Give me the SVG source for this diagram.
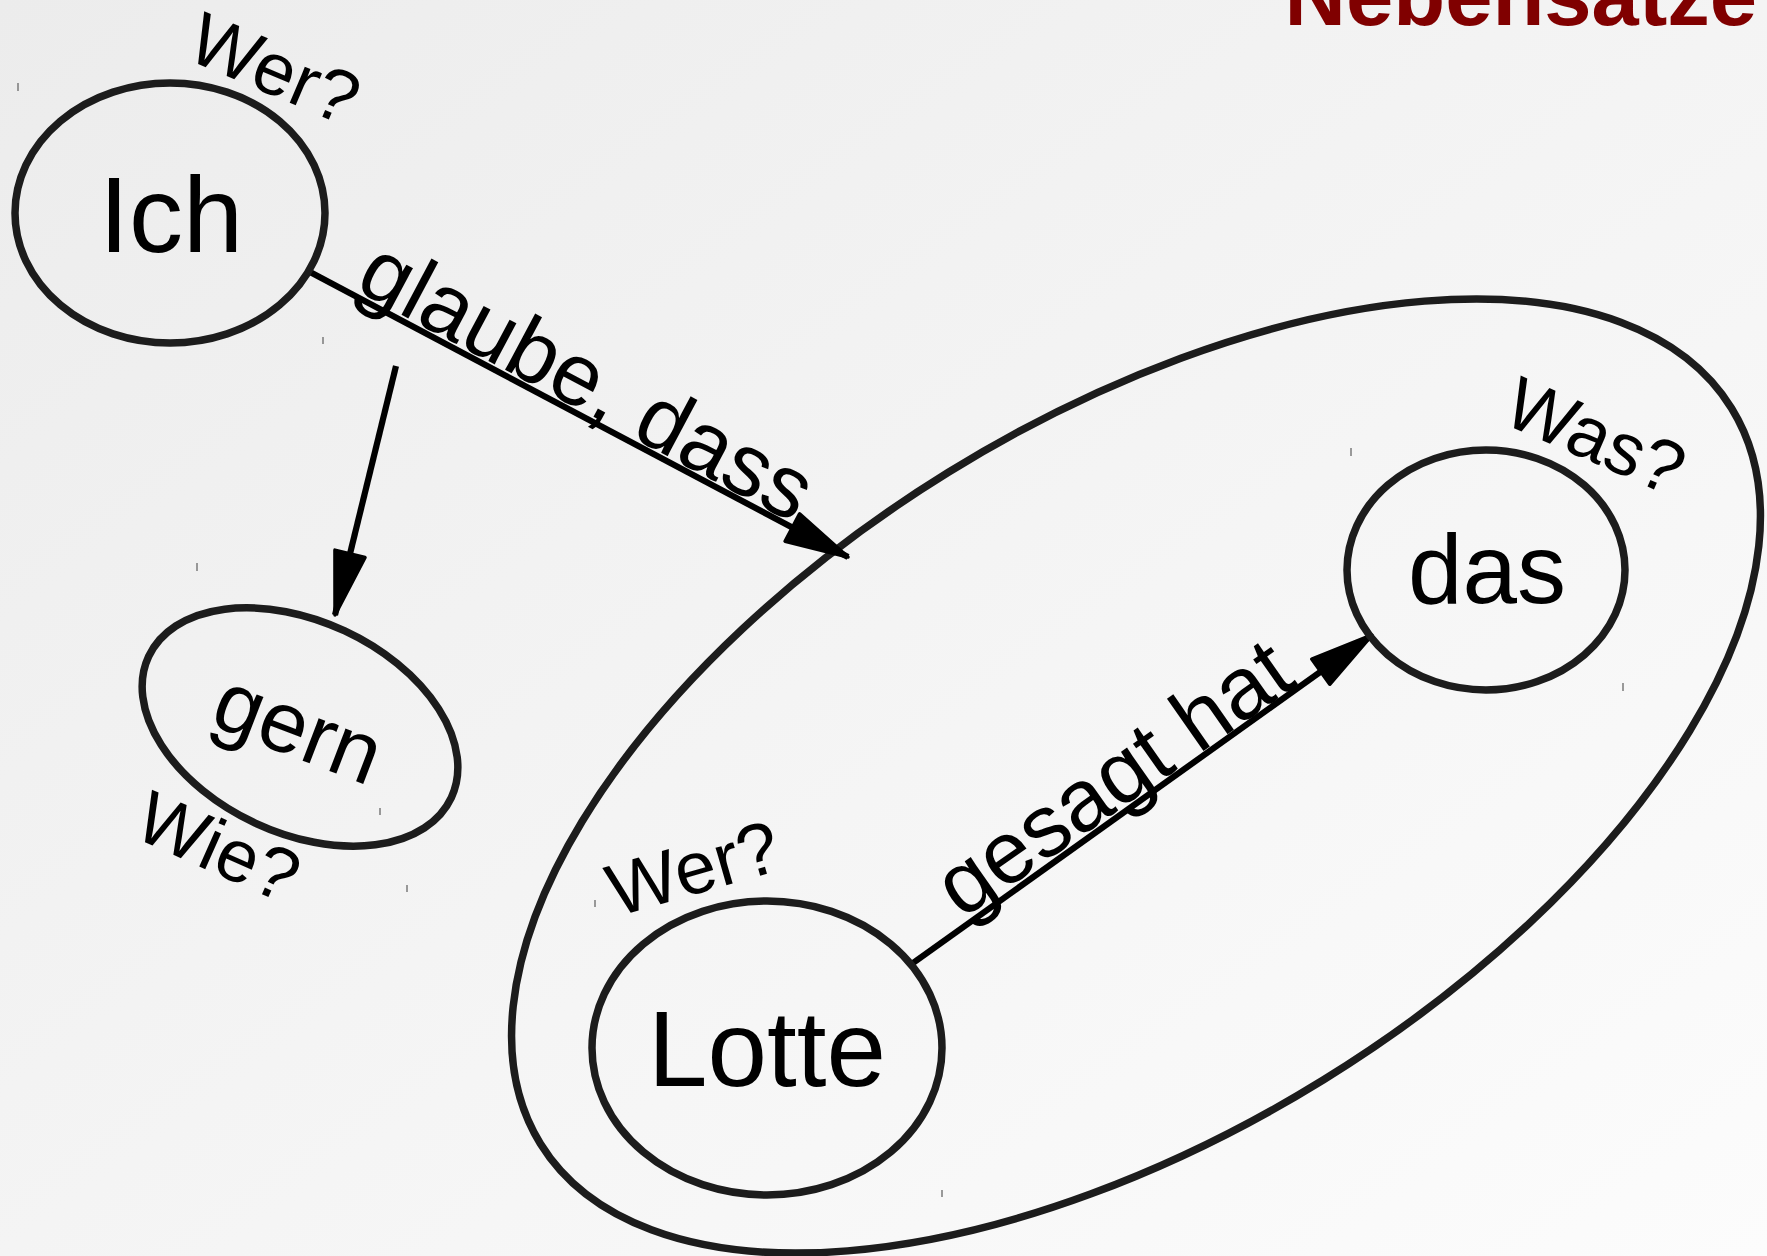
<svg xmlns="http://www.w3.org/2000/svg" width="1767" height="1256" viewBox="0 0 1767 1256">
<defs>
<linearGradient id="bg" x1="0" y1="0" x2="1" y2="1">
<stop offset="0" stop-color="#ececec"/>
<stop offset="1" stop-color="#fcfcfc"/>
</linearGradient>
<marker id="arr" markerUnits="userSpaceOnUse" orient="auto" refX="0" refY="0" markerWidth="80" markerHeight="40" overflow="visible">
<path d="M0,0 L-63,-15.5 L-63,15.5 Z" fill="#000" stroke="#000" stroke-width="3.5" stroke-linejoin="round"/>
</marker>
<style>
.node{fill:none;stroke:#1c1c1c;stroke-width:7.5}
.conn{fill:none;stroke:#000;stroke-width:6.2;marker-end:url(#arr)}
.big{font-family:"Liberation Sans",Arial,sans-serif;fill:#000;text-anchor:middle}
.lbl{font-family:"Liberation Sans",Arial,sans-serif;fill:#000;font-size:74px}
.edge{font-family:"Liberation Sans",Arial,sans-serif;fill:#000;font-size:88px}
.tick{stroke:#7a7a7a;stroke-width:1.5}
</style>
</defs>
<rect width="1767" height="1256" fill="url(#bg)"/>
<text x="1757" y="25" font-family="'Liberation Sans',Arial,sans-serif" font-weight="bold" font-size="85" fill="#800000" text-anchor="end">Nebensätze</text>

<g id="group-ellipse">
<ellipse class="node" cx="1136" cy="776" rx="700" ry="357" transform="rotate(-31.7 1136 776)"/>
</g>

<g id="connectors">
<path class="conn" d="M310,272 L848,557"/>
<path class="conn" d="M396,366 L335,615"/>
<path class="conn" d="M913,963 L1372,635"/>
<text class="edge" transform="translate(353,289) rotate(28)">glaube, dass</text>
<text class="edge" transform="translate(962,920) rotate(-35)">gesagt hat</text>
</g>

<g id="node-ich">
<ellipse class="node" cx="170" cy="213" rx="155" ry="130"/>
<text class="big" x="171" y="252" font-size="108">Ich</text>
<text class="lbl" font-size="78" transform="translate(184,58) rotate(23)">Wer?</text>
</g>

<g id="node-gern">
<ellipse class="node" cx="300" cy="727" rx="167" ry="106" transform="rotate(25 300 727)"/>
<text class="big" font-size="86" transform="translate(288,755) rotate(21)">gern</text>
<text class="lbl" transform="translate(131,836) rotate(24)">Wie?</text>
</g>

<g id="node-das">
<ellipse class="node" cx="1486" cy="570" rx="139" ry="120"/>
<text class="big" x="1487" y="603" font-size="98">das</text>
<text class="lbl" transform="translate(1500,422) rotate(23.6)">Was?</text>
</g>

<g id="node-lotte">
<ellipse class="node" cx="767" cy="1048" rx="175" ry="147"/>
<text class="big" x="767" y="1086" font-size="107">Lotte</text>
<text class="lbl" transform="translate(616,917) rotate(-16)">Wer?</text>
</g>

<g id="ticks">
<line class="tick" x1="18" y1="83" x2="18" y2="91"/>
<line class="tick" x1="323" y1="337" x2="323" y2="344"/>
<line class="tick" x1="197" y1="563" x2="197" y2="571"/>
<line class="tick" x1="380" y1="808" x2="380" y2="815"/>
<line class="tick" x1="407" y1="885" x2="407" y2="892"/>
<line class="tick" x1="1351" y1="448" x2="1351" y2="456"/>
<line class="tick" x1="1623" y1="683" x2="1623" y2="691"/>
<line class="tick" x1="595" y1="900" x2="595" y2="907"/>
<line class="tick" x1="942" y1="1190" x2="942" y2="1197"/>
</g>
</svg>
